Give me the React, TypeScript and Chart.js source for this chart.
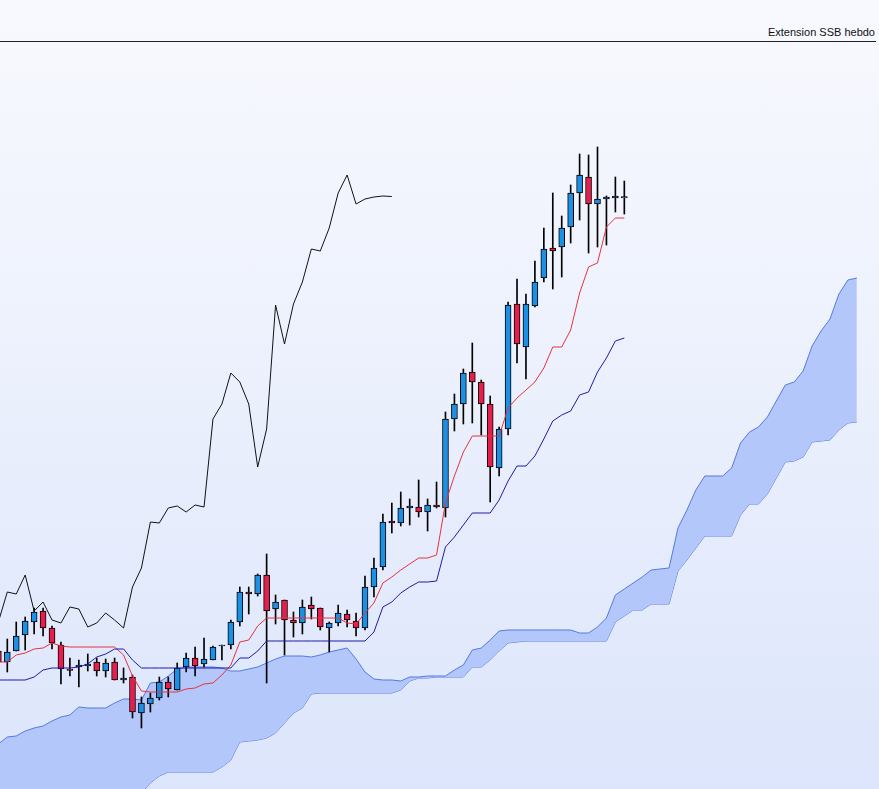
import React, { useEffect, useRef } from "react";
import { Chart, registerables } from "chart.js";

Chart.register(...registerables);

// Weekly periods start at -1 (first candle partly cut off at the left edge)
const FIRST_PERIOD = -1;
const SHIFT = 26;

const opens = [
  138, 127, 138, 154, 167, 178, 161, 144, 120, 122, 123, 127, 118, 127, 109, 112, 76, 85, 91, 107, 99, 122, 131, 125, 129,
  143, 144, 167, 197, 195, 214, 180, 189, 169, 166, 184, 181, 161, 166, 175, 168, 161, 202, 222, 268, 266, 281, 282, 277,
  284, 281, 370, 385, 417, 407, 385, 321, 360, 485, 442, 483, 511, 541, 542, 562, 596, 612, 585, 590, 591, 591,
];
const highs = [
  141, 150, 167, 172, 181, 181, 163, 147, 131, 129, 135, 131, 130, 131, 121, 114, 92, 96, 112, 112, 126, 136, 142, 151, 143,
  144, 169, 202, 202, 215, 235, 194, 189, 177, 189, 192, 181, 167, 184, 179, 176, 213, 231, 275, 286, 297, 290, 309, 290,
  307, 377, 395, 420, 446, 409, 393, 362, 487, 510, 495, 528, 561, 596, 573, 604, 635, 634, 642, 593, 612, 608,
];
const lows = [
  124, 117, 138, 139, 155, 153, 140, 105, 113, 102, 118, 113, 112, 109, 106, 71, 61, 77, 89, 92, 99, 117, 113, 122, 129,
  129, 140, 163, 175, 193, 106, 165, 134, 152, 155, 170, 159, 137, 163, 162, 153, 159, 192, 219, 256, 263, 264, 272, 258,
  281, 272, 358, 365, 366, 354, 287, 313, 354, 426, 410, 482, 507, 500, 512, 546, 569, 536, 542, 544, 577, 575,
];
const closes = [
  127, 137, 153, 168, 177, 161, 146, 120, 118.5, 124, 125, 118, 126, 109, 111, 77, 86, 91, 107, 100, 121, 131, 123, 130, 142,
  144, 167, 197, 195, 214, 178, 187, 169, 166, 182, 180, 162, 166, 176, 169, 161, 202, 221, 267, 266, 281, 283, 277, 284,
  282, 370, 385, 416, 407, 385, 322, 360, 484, 445, 485, 507, 540, 538, 561, 596, 614, 585, 590, 592, 593, 592.5,
];

const tenkan = [
  127, 127, 134, 136, 140, 141, 146, 143, 142, 142, 142, 142, 142, 142, 134, 113, 98, 97, 97, 97, 97, 100, 101, 105, 106,
  114, 124, 147, 149, 163, 171, 171, 171, 171, 171, 171, 171, 171, 171, 166, 165, 176, 186, 206, 212, 219, 225, 231, 231,
  234, 286, 313, 337, 353, 353, 353, 353, 381, 391, 399, 407, 421, 442, 442, 459, 496, 522, 526, 562, 571, 571,
];
const kijun = [
  109, 109, 109, 109, 112, 119, 121, 121, 121, 122, 125, 132, 135, 140, 140, 129, 121, 121, 121, 121, 121, 121, 121, 121, 121,
  121, 121, 131, 131, 138, 148, 148, 148, 148, 148, 148, 148, 148, 148, 148, 148, 148, 157, 182, 187, 196, 202, 207, 207,
  208, 242, 252, 264, 276, 276, 276, 289, 308, 323, 323, 333, 350, 368, 374, 378, 394, 397, 417, 431, 448, 451,
];

// Cloud (projected 26 periods ahead): periods -1 .. 95
const senkouA = [
  45, 52, 53, 58, 61, 63, 68, 72, 74, 82, 81, 81, 81, 86, 90, 90, 89, 106, 107, 113, 120, 122, 122, 122, 122,
  121, 118, 118, 120, 122, 126, 130, 133, 133, 133, 132, 134, 137, 139, 141, 130, 117, 110, 109, 109, 108, 112, 112, 113,
  113, 113, 119, 124, 139, 141, 149, 158, 159, 159, 159, 159, 159, 159, 159, 159, 156, 156, 162, 171, 194, 200, 206, 212,
  219, 220, 221, 261, 279, 299, 313, 313, 313, 321, 346, 357, 362, 372, 388, 404, 407, 418, 443, 458, 470, 495, 509, 511,
];
const senkouB = [
  -16, -16, -16, -16, -16, -16, -16, -16, -16, -16, -16, -16, -16, -16, -16, -11, -4, 6, 13, 17, 17, 17, 17, 17, 17,
  22, 29, 47, 48, 49, 51, 56, 66, 76, 81, 95, 96, 96, 96, 96, 96, 96, 96, 96, 96, 99, 108, 111, 111,
  112, 112, 112, 112, 122, 122, 129, 138, 146, 147, 148, 148, 148, 148, 148, 148, 148, 148, 148, 148, 167, 173, 179, 179,
  185, 185, 185, 218, 229, 241, 253, 253, 253, 253, 274, 285, 285, 295, 311, 327, 328, 332, 347, 348, 349, 359, 366, 367,
];

const UP = "#1c90e4";
const DOWN = "#e61e4d";
const CLOUD_FILL = "#b3c7fa";
const CLOUD_LINE = "#5479e0";
const TENKAN = "#e8323c";
const KIJUN = "#1c1ca8";
const CHIKOU = "#111111";

export default function App() {
  const ref = useRef<HTMLCanvasElement>(null);

  useEffect(() => {
    document.body.style.margin = "0";
    if (!ref.current) return;
    const periods = opens.map((_, k) => k + FIRST_PERIOD);
    const wick = periods.map((p, k) => ({ x: p, y: [lows[k], highs[k]] }));
    const body = periods.map((p, k) => ({ x: p, y: [opens[k], closes[k]] }));
    const colors = periods.map((_, k) => (closes[k] >= opens[k] ? UP : DOWN));
    const line = (arr: number[]) => arr.map((v, k) => ({ x: k + FIRST_PERIOD, y: v }));
    const chikou = closes.slice(SHIFT).map((v, k) => ({ x: k + FIRST_PERIOD, y: v }));

    const lineBase = { pointRadius: 0, pointHoverRadius: 0, borderWidth: 1, tension: 0 };

    const chart = new Chart(ref.current, {
      type: "bar",
      data: {
        datasets: [
          {
            type: "line",
            label: "SSA",
            data: line(senkouA),
            borderColor: CLOUD_LINE,
            backgroundColor: CLOUD_FILL,
            fill: "+1",
            order: 10,
            ...lineBase,
          },
          {
            type: "line",
            label: "SSB",
            data: line(senkouB),
            borderColor: CLOUD_LINE,
            fill: false,
            order: 10,
            ...lineBase,
          },
          {
            type: "bar",
            label: "wick",
            data: wick as any,
            backgroundColor: "#000000",
            barThickness: 1,
            grouped: false,
            order: 6,
          },
          {
            type: "bar",
            label: "body",
            data: body as any,
            backgroundColor: colors,
            borderColor: "#000000",
            borderWidth: 1,
            borderSkipped: false,
            barThickness: 6,
            grouped: false,
            order: 5,
          },
          { type: "line", label: "Chikou", data: chikou, borderColor: CHIKOU, fill: false, order: 3, ...lineBase },
          { type: "line", label: "Tenkan", data: line(tenkan), borderColor: TENKAN, fill: false, order: 2, ...lineBase },
          { type: "line", label: "Kijun", data: line(kijun), borderColor: KIJUN, fill: false, order: 1, ...lineBase },
        ] as any,
      },
      options: {
        animation: false,
        responsive: false,
        events: [],
        layout: { padding: 0 },
        plugins: { legend: { display: false }, tooltip: { enabled: false }, title: { display: false } },
        scales: {
          x: { type: "linear", min: -0.8164, max: 97.48, display: false, offset: false },
          y: { type: "linear", min: 0, max: 746, display: false },
        },
      },
    });
    return () => chart.destroy();
  }, []);

  return (
    <div
      style={{
        position: "relative",
        width: 879,
        height: 789,
        overflow: "hidden",
        background: "linear-gradient(to bottom, #f8f9fe 0%, #eef2fd 40%, #dce5fb 100%)",
      }}
    >
      <div
        style={{
          position: "absolute",
          left: 0,
          top: 0,
          width: 876,
          height: 41,
          borderBottom: "1px solid #222",
        }}
      >
        <span
          style={{
            position: "absolute",
            right: 1,
            top: 26,
            fontFamily: '"Liberation Sans", Arial, sans-serif',
            fontSize: 11,
            color: "#111",
            whiteSpace: "nowrap",
          }}
        >
          Extension SSB hebdo
        </span>
      </div>
      <canvas
        ref={ref}
        width={879}
        height={746}
        style={{ position: "absolute", left: 0, top: 43, width: 879, height: 746, display: "block" }}
      />
    </div>
  );
}
